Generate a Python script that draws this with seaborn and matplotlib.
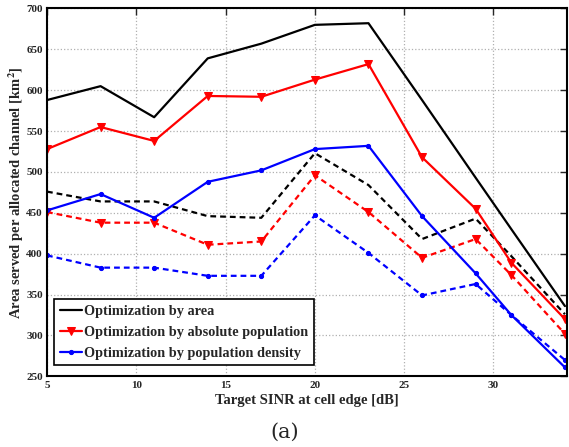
import matplotlib
matplotlib.use("Agg")
import matplotlib.pyplot as plt
import seaborn as sns

# SINR targets (dB)
sinr = [5, 8, 11, 14, 17, 20, 23, 26, 29, 31, 34]

# solid lines
area_solid = [588, 605, 567, 639, 657, 680, 682, 588, 493, 430, 336]
abspop_solid = [528, 555, 538, 593, 592, 613, 632, 518, 455, 389, 320]
density_solid = [453, 473, 444, 488, 502, 528, 532, 446, 376, 325, 261]

# dashed lines
area_dash = [476, 464, 464, 446, 444, 523, 484, 418, 443, 397, 326]
abspop_dash = [451, 438, 438, 411, 415, 496, 451, 395, 418, 374, 302]
density_dash = [398, 383, 383, 373, 373, 447, 401, 349, 363, 325, 270]

labels = ["Optimization by area",
          "Optimization by absolute population",
          "Optimization by population density"]

sns.set_style("white")
plt.rcParams["font.family"] = ["Liberation Serif", "DejaVu Serif"]
plt.rcParams["mathtext.fontset"] = "stix"

fig = plt.figure(figsize=(5.69, 4.47), dpi=100)
ax = fig.add_axes([0.0826, 0.158, 0.9134, 0.823])

dash = (2.6, 1.8)
# dashed series first (drawn underneath)
sns.lineplot(x=sinr, y=area_dash, color="black", lw=1.6, ax=ax).lines[-1].set_dashes(dash)
sns.lineplot(x=sinr, y=abspop_dash, color="red", lw=1.6,
             marker="v", markersize=5.5, markeredgecolor="red", ax=ax).lines[-1].set_dashes(dash)
sns.lineplot(x=sinr, y=density_dash, color="blue", lw=1.6,
             marker=".", markersize=6, markeredgecolor="blue", ax=ax).lines[-1].set_dashes(dash)

sns.lineplot(x=sinr, y=area_solid, color="black", lw=1.6, ax=ax, label=labels[0])
sns.lineplot(x=sinr, y=abspop_solid, color="red", lw=1.6, marker="v",
             markersize=5.5, markeredgecolor="red", ax=ax, label=labels[1])
sns.lineplot(x=sinr, y=density_solid, color="blue", lw=1.6, marker=".",
             markersize=6, markeredgecolor="blue", ax=ax, label=labels[2])

ax.set_xlim(5, 34.1)
ax.set_ylim(250, 700)
ax.set_xticks([5, 10, 15, 20, 25, 30])
ax.set_yticks(range(250, 701, 50))
ax.grid(True, ls=":", color="#b0b0b0", lw=0.9)
ax.tick_params(direction="in", top=True, right=True, length=5, width=1,
               labelsize=8, pad=3)
for lbl in ax.get_xticklabels() + ax.get_yticklabels():
    lbl.set_fontweight("bold")
for sp in ax.spines.values():
    sp.set_color("black")
    sp.set_linewidth(1.5)

ax.set_xlabel("Target SINR at cell edge [dB]", fontsize=10.5, fontweight="bold",
              labelpad=3)
ax.set_ylabel(r"Area served per allocated channel [km$^\mathbf{2}$]",
              fontsize=10.5, fontweight="bold", labelpad=0.5)

leg = ax.legend(loc="lower left", bbox_to_anchor=(0.008, 0.022), fancybox=False,
                framealpha=1, edgecolor="black", handlelength=1.55,
                handletextpad=0.15, borderpad=0.4, labelspacing=0.55,
                borderaxespad=0.2, prop={"weight": "bold", "size": 10.3})
leg.get_frame().set_linewidth(1.2)

fig.text(0.5, 0.033, "(a)", ha="center", va="center", fontsize=15,
         family="DejaVu Serif")

fig.savefig("out.png", dpi=100)
